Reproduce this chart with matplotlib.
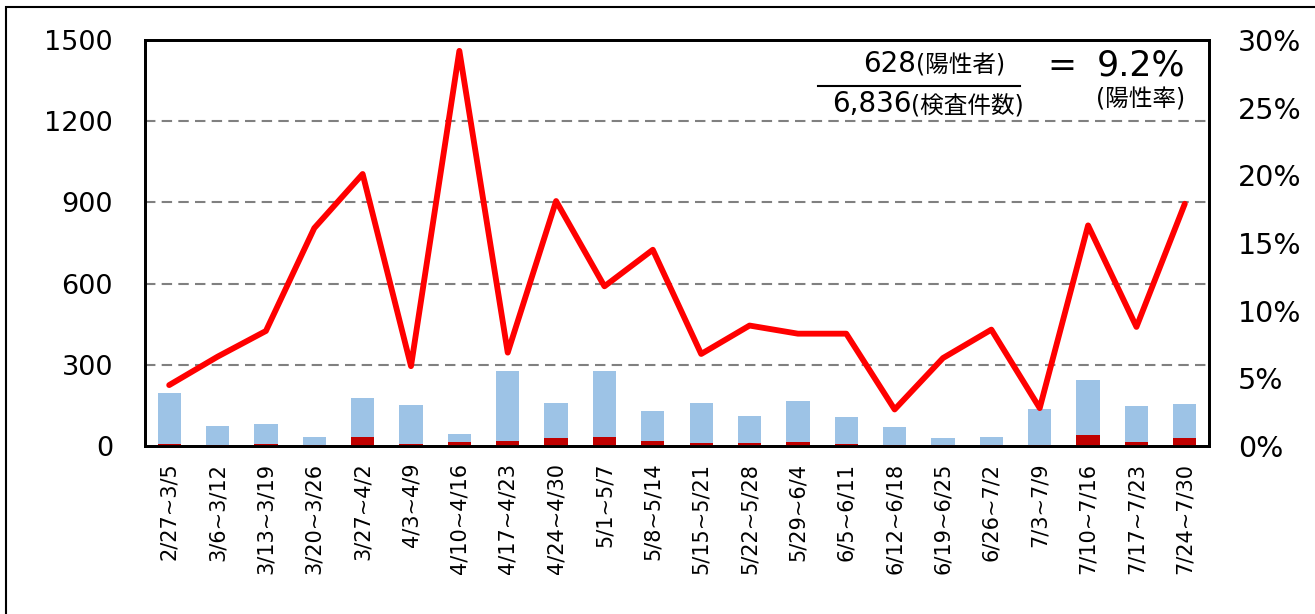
#!/usr/bin/env python3
"""Weekly tests / positives with positivity rate line."""
import matplotlib

matplotlib.use("Agg")
import matplotlib.pyplot as plt
from matplotlib.patches import Rectangle

plt.rcParams["font.family"] = ["DejaVu Sans", "Noto Sans CJK JP"]

weeks = [
    "2/27~3/5", "3/6~3/12", "3/13~3/19", "3/20~3/26", "3/27~4/2", "4/3~4/9",
    "4/10~4/16", "4/17~4/23", "4/24~4/30", "5/1~5/7", "5/8~5/14", "5/15~5/21",
    "5/22~5/28", "5/29~6/4", "6/5~6/11", "6/12~6/18", "6/19~6/25", "6/26~7/2",
    "7/3~7/9", "7/10~7/16", "7/17~7/23", "7/24~7/30",
]
tests = [197, 74, 81, 34, 176, 150, 44, 276, 158, 277, 129,
         160, 111, 167, 107, 70, 28, 32, 138, 243, 147, 156]
positives = [9, 5, 7, 5, 35, 9, 13, 19, 29, 33, 19,
             11, 10, 14, 9, 2, 2, 3, 4, 40, 13, 28]
rate = [4.5, 6.6, 8.5, 16.1, 20.1, 5.9, 29.2, 6.9, 18.1, 11.8, 14.5,
        6.8, 8.9, 8.3, 8.3, 2.7, 6.5, 8.6, 2.8, 16.3, 8.8, 17.9]

left_ticks = [0, 300, 600, 900, 1200, 1500]
right_ticks = [0, 5, 10, 15, 20, 25, 30]

W, H = 1315, 614
fig = plt.figure(figsize=(W / 100, H / 100), dpi=100)
ax = fig.add_axes([145 / W, 1 - 446 / H, 1064 / W, 406 / H])

x = list(range(len(weeks)))
ax.bar(x, tests, width=0.48, color="#9DC3E6", zorder=2)
ax.bar(x, positives, width=0.48, color="#C00000", zorder=3)
ax.set_xlim(-0.5, len(weeks) - 0.5)
ax.set_ylim(0, 1500)
ax.set_yticks(left_ticks)
ax.set_xticks(x)
ax.set_xticklabels(weeks, rotation=90, va="top", ha="center", fontsize=15)
ax.tick_params(axis="x", length=0, pad=12)
ax.tick_params(axis="y", length=0, pad=23, labelsize=19.5)
for v in left_ticks[1:-1]:
    ax.axhline(v, color="#808080", lw=1.5, ls=(0, (5, 3)), zorder=1)
for s in ax.spines.values():
    s.set_linewidth(2)

ax2 = ax.twinx()
ax2.plot(x, rate, color="#FF0000", lw=4.2, solid_joinstyle="round",
         solid_capstyle="round", zorder=5)
ax2.set_ylim(0, 30)
ax2.set_yticks(right_ticks)
ax2.set_yticklabels([f"{t}%" for t in right_ticks])
ax2.tick_params(axis="y", length=0, pad=21, labelsize=20.5)
for s in ax2.spines.values():
    s.set_linewidth(2)

fig.canvas.draw()
renderer = fig.canvas.get_renderer()


def pair(xr, yb, big, small, big_size=20, small_size=17):
    """Number + bracketed note, right-aligned at pixel xr, baseline at pixel yb."""
    t = fig.text(xr / W, 1 - yb / H, small, fontsize=small_size,
                 ha="right", va="baseline")
    w = t.get_window_extent(renderer).width
    fig.text((xr - w) / W, 1 - yb / H, big, fontsize=big_size,
             ha="right", va="baseline")


# summary formula at the top right
pair(1005, 72, "628", "(陽性者)")
pair(1024, 112, "6,836", "(検査件数)")
fig.add_artist(plt.Line2D([818 / W, 1020 / W], [1 - 86 / H, 1 - 86 / H],
                          color="black", lw=1.5))
fig.text(1047 / W, 1 - 76 / H, "=", fontsize=25, ha="left", va="baseline")
fig.text(1185 / W, 1 - 76 / H, "9.2%", fontsize=25, ha="right", va="baseline")
fig.text(1185 / W, 1 - 106 / H, "(陽性率)", fontsize=17, ha="right", va="baseline")

fig.add_artist(Rectangle((6 / W, -0.1), 2, 1 - 7 / H + 0.1,
                         transform=fig.transFigure, fill=False,
                         edgecolor="black", lw=1.5))
fig.savefig("out.png", dpi=100)
